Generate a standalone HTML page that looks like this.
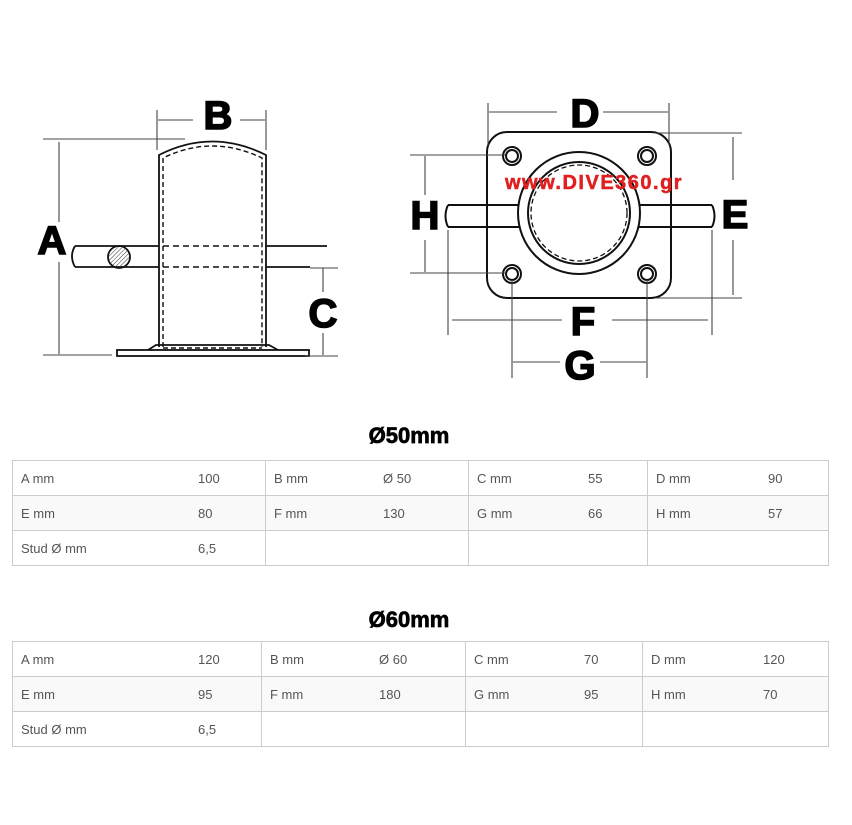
<!DOCTYPE html>
<html><head><meta charset="utf-8"><style>
html,body{margin:0;padding:0;background:#fff;width:852px;height:825px;overflow:hidden}
svg{display:block}
.L{font-family:"Liberation Sans",sans-serif;font-weight:bold;fill:#000;stroke:#000;stroke-width:1.6}
.T{font-family:"Liberation Sans",sans-serif;font-weight:bold;fill:#000;stroke:#000;stroke-width:0.7}
.t{font-family:"Liberation Sans","DejaVu Sans",sans-serif;font-size:13px;fill:#555}
</style></head><body>
<svg width="852" height="825" viewBox="0 0 852 825" xmlns="http://www.w3.org/2000/svg">
<defs>
<pattern id="h" width="3" height="3" patternUnits="userSpaceOnUse" patternTransform="rotate(45)"><line x1="0" y1="0" x2="0" y2="3" stroke="#333" stroke-width="1"/></pattern>
</defs>
<g fill="none" stroke="#111" stroke-width="1.8">
<path d="M159 347 L159 155 Q212 128 266 155 L266 347"/>
<path d="M163 347 L163 158 Q212 134 262 158 L262 347" stroke-dasharray="5,3" stroke-width="1.4"/>
<path d="M75 246 L159 246 M266 246 L327 246 M75 267 L159 267 M266 267 L310 267"/>
<path d="M75 246 Q69 256 75 267"/>
<path d="M163 246 L262 246 M163 267 L262 267" stroke-dasharray="6,4" stroke-width="1.4"/>
<rect x="117" y="350" width="192" height="6"/>
<path d="M148 350 L156 345 L269 345 L278 350"/>
<path d="M163 348 L262 348" stroke-dasharray="5,3" stroke-width="1.4"/>
<circle cx="119" cy="257" r="11" fill="url(#h)"/>
</g>
<g stroke="#444" stroke-width="1.1" fill="none">
<path d="M43 139 L185 139 M43 355 L112 355 M59 142 L59 222 M59 262 L59 354"/>
<path d="M157 110 L157 150 M266 110 L266 150 M158 120 L193 120 M240 120 L265 120"/>
<path d="M310 268 L338 268 M323 268 L323 292 M323 333 L323 355 M305 356 L338 356"/>
</g>
<text class="L" x="52" y="254" font-size="40" text-anchor="middle">A</text>
<text class="L" x="218" y="129" font-size="40" text-anchor="middle">B</text>
<text class="L" x="323" y="327" font-size="40" text-anchor="middle">C</text>
<g fill="none" stroke="#111" stroke-width="2">
<rect x="487" y="132" width="184" height="166" rx="20"/>
<circle cx="512" cy="156" r="9"/><circle cx="512" cy="156" r="6"/>
<circle cx="647" cy="156" r="9"/><circle cx="647" cy="156" r="6"/>
<circle cx="512" cy="274" r="9"/><circle cx="512" cy="274" r="6"/>
<circle cx="647" cy="274" r="9"/><circle cx="647" cy="274" r="6"/>
<path d="M448 205 L530 205 M448 227 L530 227 M628 205 L712 205 M628 227 L712 227"/>
<path d="M448 205 Q443 216 448 227 M712 205 Q717 216 712 227"/>
<circle cx="579" cy="213" r="61" fill="#fff"/>
<circle cx="579" cy="213" r="51"/>
<circle cx="579" cy="213" r="48" stroke-dasharray="5,3" stroke-width="1.3"/>
</g>
<g stroke="#444" stroke-width="1.1" fill="none">
<path d="M488 103 L488 145 M669 103 L669 145 M489 112 L557 112 M603 112 L668 112"/>
<path d="M655 133 L742 133 M655 298 L742 298 M733 137 L733 180 M733 240 L733 295"/>
<path d="M410 155 L505 155 M410 273 L505 273 M425 156 L425 195 M425 240 L425 272"/>
<path d="M448 230 L448 335 M712 230 L712 335 M452 320 L562 320 M612 320 L708 320"/>
<path d="M512 280 L512 378 M647 280 L647 378 M513 362 L560 362 M600 362 L646 362"/>
</g>
<text class="L" x="585" y="127" font-size="40" text-anchor="middle">D</text>
<text class="L" x="735" y="228" font-size="40" text-anchor="middle">E</text>
<text class="L" x="425" y="229" font-size="40" text-anchor="middle">H</text>
<text class="L" x="583" y="335" font-size="40" text-anchor="middle">F</text>
<text class="L" x="580" y="379" font-size="40" text-anchor="middle">G</text>
<text x="505" y="189" font-family="Liberation Sans,sans-serif" font-weight="bold" font-size="20" letter-spacing="1.5" fill="#e02020" stroke="#e02020" stroke-width="0.5">www.DIVE360.gr</text>
<text class="T" x="409" y="443" font-size="22" text-anchor="middle">Ø50mm</text>
<rect x="12.5" y="495.5" width="816" height="35" fill="#f9f9f9"/>
<g stroke="#ccc" stroke-width="1" fill="none">
<rect x="12.5" y="460.5" width="816" height="105"/>
<path d="M12 495.5 L829 495.5 M12 530.5 L829 530.5 M265.5 460 L265.5 565 M468.5 460 L468.5 565 M647.5 460 L647.5 565"/>
</g>
<g class="t">
<text x="21" y="483">A mm</text><text x="198" y="483">100</text><text x="274" y="483">B mm</text><text x="383" y="483">Ø 50</text><text x="477" y="483">C mm</text><text x="588" y="483">55</text><text x="656" y="483">D mm</text><text x="768" y="483">90</text>
<text x="21" y="518">E mm</text><text x="198" y="518">80</text><text x="274" y="518">F mm</text><text x="383" y="518">130</text><text x="477" y="518">G mm</text><text x="588" y="518">66</text><text x="656" y="518">H mm</text><text x="768" y="518">57</text>
<text x="21" y="553">Stud Ø mm</text><text x="198" y="553">6,5</text>
</g>
<text class="T" x="409" y="627" font-size="22" text-anchor="middle">Ø60mm</text>
<rect x="12.5" y="676.5" width="816" height="35" fill="#f9f9f9"/>
<g stroke="#ccc" stroke-width="1" fill="none">
<rect x="12.5" y="641.5" width="816" height="105"/>
<path d="M12 676.5 L829 676.5 M12 711.5 L829 711.5 M261.5 641 L261.5 746 M465.5 641 L465.5 746 M642.5 641 L642.5 746"/>
</g>
<g class="t">
<text x="21" y="664">A mm</text><text x="198" y="664">120</text><text x="270" y="664">B mm</text><text x="379" y="664">Ø 60</text><text x="474" y="664">C mm</text><text x="584" y="664">70</text><text x="651" y="664">D mm</text><text x="763" y="664">120</text>
<text x="21" y="699">E mm</text><text x="198" y="699">95</text><text x="270" y="699">F mm</text><text x="379" y="699">180</text><text x="474" y="699">G mm</text><text x="584" y="699">95</text><text x="651" y="699">H mm</text><text x="763" y="699">70</text>
<text x="21" y="734">Stud Ø mm</text><text x="198" y="734">6,5</text>
</g>
</svg>
</body></html>
